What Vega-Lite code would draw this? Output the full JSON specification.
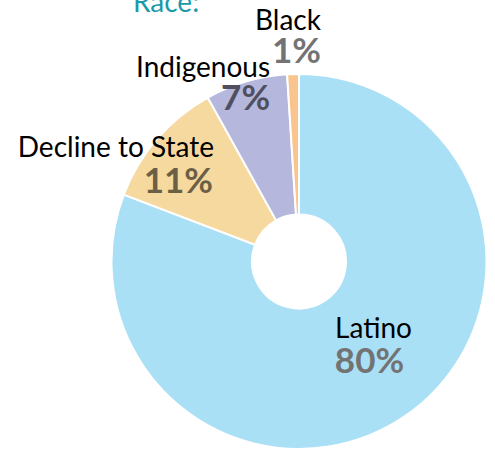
{
  "$schema": "https://vega.github.io/schema/vega-lite/v6.json",
  "autosize": {"type": "none"},
  "padding": {"left": 111, "top": 74, "right": 8, "bottom": 0},
  "width": 376,
  "height": 375,
  "background": "white",
  "title": {"text": "Race:", "anchor": "start", "frame": "group", "color": "#1b9aaa", "font": "Lato", "fontSize": 28, "fontWeight": "normal", "offset": 0, "dx": 22, "dy": 10},
  "data": {"values": [
    {"race": "Latino", "value": 0.80},
    {"race": "Decline to State", "value": 0.11},
    {"race": "Indigenous", "value": 0.07},
    {"race": "Black", "value": 0.01}
  ]},
  "encoding": {
    "theta": {"field": "value", "type": "quantitative", "stack": true},
    "order": {"field": "value", "type": "quantitative", "sort": "descending"}
  },
  "layer": [
    {
      "mark": {"type": "arc", "innerRadius": 47, "stroke": "white", "strokeWidth": 2},
      "encoding": {
        "color": {"field": "race", "type": "nominal", "legend": null,
          "scale": {"domain": ["Latino", "Decline to State", "Indigenous", "Black"], "range": ["#a9e0f5", "#f6d99f", "#b5b8dc", "#f9c48d"]}}
      }
    },
    {
      "mark": {"type": "text", "radius": 100, "dx": 17.8, "dy": -5.9, "align": "center", "baseline": "alphabetic", "font": "Lato", "fontSize": 28, "color": "black"},
      "encoding": {"text": {"condition": {"test": "datum.race === 'Latino'", "field": "race", "type": "nominal"}, "value": ""}}
    },
    {
      "mark": {"type": "text", "radius": 100, "dx": 13.8, "dy": 29.1, "align": "center", "baseline": "alphabetic", "font": "Lato", "fontSize": 35, "fontWeight": "bold", "color": "#737373"},
      "encoding": {"text": {"condition": {"test": "datum.race === 'Latino'", "field": "value", "type": "quantitative", "format": ".0%"}, "value": ""}}
    },
    {
      "mark": {"type": "text", "radius": 150, "dx": 28.4, "dy": -6.2, "align": "right", "baseline": "alphabetic", "font": "Lato", "fontSize": 28, "color": "black"},
      "encoding": {"text": {"condition": {"test": "datum.race === 'Decline to State'", "field": "race", "type": "nominal"}, "value": ""}}
    },
    {
      "mark": {"type": "text", "radius": 150, "dx": 27.4, "dy": 29.8, "align": "right", "baseline": "alphabetic", "font": "Lato", "fontSize": 35, "fontWeight": "bold", "color": "#6b5f45"},
      "encoding": {"text": {"condition": {"test": "datum.race === 'Decline to State'", "field": "value", "type": "quantitative", "format": ".0%"}, "value": ""}}
    },
    {
      "mark": {"type": "text", "radius": 190, "dx": 24.6, "dy": -2.3, "align": "right", "baseline": "alphabetic", "font": "Lato", "fontSize": 28, "color": "black"},
      "encoding": {"text": {"condition": {"test": "datum.race === 'Indigenous'", "field": "race", "type": "nominal"}, "value": ""}}
    },
    {
      "mark": {"type": "text", "radius": 190, "dx": 24.6, "dy": 30.7, "align": "right", "baseline": "alphabetic", "font": "Lato", "fontSize": 35, "fontWeight": "bold", "color": "#4f4f60"},
      "encoding": {"text": {"condition": {"test": "datum.race === 'Indigenous'", "field": "value", "type": "quantitative", "format": ".0%"}, "value": ""}}
    },
    {
      "mark": {"type": "text", "radius": 190, "dx": 28, "dy": -41.6, "align": "right", "baseline": "alphabetic", "font": "Lato", "fontSize": 28, "color": "black"},
      "encoding": {"text": {"condition": {"test": "datum.race === 'Black'", "field": "race", "type": "nominal"}, "value": ""}}
    },
    {
      "mark": {"type": "text", "radius": 190, "dx": 28, "dy": -8.6, "align": "right", "baseline": "alphabetic", "font": "Lato", "fontSize": 35, "fontWeight": "bold", "color": "#737373"},
      "encoding": {"text": {"condition": {"test": "datum.race === 'Black'", "field": "value", "type": "quantitative", "format": ".0%"}, "value": ""}}
    }
  ]
}
